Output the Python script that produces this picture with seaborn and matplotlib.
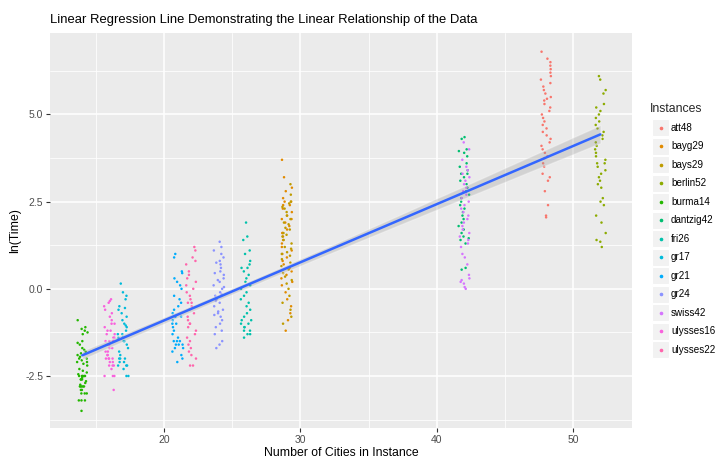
import numpy as np
import pandas as pd
import matplotlib
matplotlib.use("Agg")
import matplotlib.pyplot as plt
from matplotlib.patches import Rectangle
from matplotlib.collections import PolyCollection
import seaborn as sns

# --- data ---
instances = ["att48", "bayg29", "bays29", "berlin52", "burma14", "dantzig42", "fri26",
             "gr17", "gr21", "gr24", "swiss42", "ulysses16", "ulysses22"]
cities = [48, 29, 29, 52, 14, 42, 26, 17, 21, 24, 42, 16, 22]
colors = ["#F8766D", "#E18A00", "#BE9C00", "#8CAB00", "#24B700", "#00BE70", "#00C1AB",
          "#00BBDA", "#00ACFC", "#8B93FF", "#D575FE", "#F962DD", "#FF65AC"]

ln_att48 = [6.8, 6.6, 6.5, 6.4, 6.3, 6.2, 6.1, 6.0, 5.9, 5.8, 5.7, 5.6, 5.5, 5.45, 5.4, 5.3,
            5.2, 5.1, 5.0, 4.9, 4.8, 4.7, 4.6, 4.5, 4.4, 4.3, 4.2, 4.1, 4.0, 3.9, 3.8, 3.75,
            3.6, 3.5, 3.3, 3.2, 3.1, 2.8, 2.4, 2.1, 2.05]
ln_bayg29 = [3.7, 3.2, 2.9, 2.8, 2.6, 2.5, 2.5, 2.4, 2.4, 2.3, 2.2, 2.1, 2.0, 2.0, 1.9, 1.8,
             1.7, 1.6, 1.6, 1.5, 1.4, 1.3, 1.2, 1.1, 1.0, 0.9, 0.8, 0.7, 0.6, 0.5, 0.4, 0.3,
             0.2, 0.1, -0.1, -0.3, -0.5, -0.7, -0.9, -1.2]
ln_bays29 = [3.0, 2.7, 2.5, 2.45, 2.35, 2.3, 2.2, 2.1, 2.0, 1.9, 1.85, 1.75, 1.7, 1.6, 1.55,
             1.5, 1.4, 1.3, 1.2, 1.15, 1.05, 1.0, 0.95, 0.85, 0.75, 0.65, 0.55, 0.45, 0.35,
             0.25, 0.15, 0.0, -0.2, -0.4, -0.6, -0.8, -1.0]
ln_berlin52 = [6.1, 6.0, 5.7, 5.6, 5.3, 5.2, 5.1, 5.0, 4.9, 4.8, 4.7, 4.6, 4.5, 4.4, 4.3, 4.2,
               4.1, 4.0, 3.9, 3.8, 3.7, 3.6, 3.6, 3.5, 3.4, 3.3, 3.2, 3.1, 3.0, 2.9, 2.6, 2.5,
               2.4, 2.1, 1.9, 1.6, 1.4, 1.35, 1.2]
ln_burma14 = [-0.9, -1.1, -1.15, -1.2, -1.25, -1.3, -1.5, -1.55, -1.6, -1.7, -1.75, -1.8,
              -1.85, -1.9, -1.95, -2.0, -2.0, -2.05, -2.1, -2.1, -2.15, -2.2, -2.3, -2.35,
              -2.4, -2.45, -2.5, -2.5, -2.5, -2.5, -2.5, -2.55, -2.6, -2.6, -2.6, -2.65,
              -2.7, -2.75, -2.8, -2.8, -2.8, -2.8, -2.8, -2.9, -2.9, -3.0, -3.0, -3.0,
              -3.2, -3.2, -3.2, -3.5]
ln_dantzig42 = [4.35, 4.3, 4.0, 3.95, 3.9, 3.8, 3.6, 3.5, 3.4, 3.3, 3.3, 3.2, 3.1, 3.0, 2.9,
                2.8, 2.7, 2.6, 2.5, 2.4, 2.3, 2.2, 2.1, 2.0, 1.9, 1.8, 1.7, 1.6, 1.5, 1.45,
                1.4, 1.3, 0.6, 0.55]
ln_fri26 = [1.9, 1.5, 1.4, 1.1, 1.0, 0.8, 0.7, 0.6, 0.6, 0.5, 0.4, 0.3, 0.2, 0.1, 0.0, -0.1,
            -0.2, -0.3, -0.4, -0.5, -0.6, -0.7, -0.8, -0.9, -0.9, -1.0, -1.0, -1.1, -1.1,
            -1.2, -1.2, -1.3, -1.3, -1.4]
ln_gr17 = [0.15, -0.1, -0.2, -0.3, -0.5, -0.55, -0.6, -0.7, -0.8, -0.9, -1.0, -1.05, -1.1,
           -1.2, -1.3, -1.3, -1.4, -1.4, -1.5, -1.5, -1.6, -1.7, -1.8, -1.9, -2.0, -2.0,
           -2.0, -2.1, -2.1, -2.2, -2.2, -2.2, -2.3, -2.5, -2.5]
ln_gr21 = [1.0, 0.9, 0.5, 0.45, 0.3, 0.2, 0.1, 0.0, -0.2, -0.3, -0.4, -0.5, -0.6, -0.7,
           -0.8, -0.8, -0.9, -1.0, -1.0, -1.1, -1.2, -1.3, -1.4, -1.5, -1.5, -1.5, -1.6,
           -1.6, -1.6, -1.7, -1.7, -1.8, -1.9, -2.0, -2.1]
ln_gr24 = [1.35, 1.2, 1.1, 1.0, 0.9, 0.8, 0.75, 0.7, 0.6, 0.5, 0.45, 0.4, 0.3, 0.25, 0.2,
           0.1, 0.05, 0.0, -0.1, -0.15, -0.2, -0.3, -0.35, -0.4, -0.5, -0.6, -0.65, -0.7,
           -0.75, -0.8, -0.9, -1.0, -1.1, -1.2, -1.3, -1.5, -1.6, -1.7]
ln_swiss42 = [4.2, 4.0, 3.7, 3.5, 3.4, 3.3, 3.2, 3.1, 3.0, 2.9, 2.8, 2.7, 2.6, 2.5, 2.4,
              2.3, 2.2, 2.1, 2.0, 1.9, 1.8, 1.7, 1.6, 1.5, 1.4, 1.3, 1.2, 1.0, 0.9, 0.7,
              0.4, 0.3, 0.25, 0.2, 0.15, 0.05, 0.0]
ln_ulysses16 = [-0.3, -0.35, -0.4, -0.5, -0.6, -0.7, -0.8, -0.9, -1.0, -1.0, -1.1, -1.2,
                -1.2, -1.3, -1.3, -1.4, -1.4, -1.5, -1.5, -1.5, -1.6, -1.6, -1.7, -1.7,
                -1.8, -1.8, -1.9, -1.9, -2.0, -2.0, -2.0, -2.0, -2.1, -2.1, -2.2, -2.2,
                -2.2, -2.3, -2.5, -2.5, -2.5, -2.9]
ln_ulysses22 = [1.2, 1.1, 0.9, 0.8, 0.7, 0.5, 0.4, 0.3, 0.2, 0.1, 0.0, -0.1, -0.2, -0.3,
                -0.4, -0.4, -0.5, -0.6, -0.7, -0.8, -0.9, -1.0, -1.0, -1.1, -1.2, -1.3,
                -1.4, -1.5, -1.6, -1.7, -1.8, -1.9, -2.0, -2.2, -2.2]

ln_times = {
    "att48": ln_att48, "bayg29": ln_bayg29, "bays29": ln_bays29, "berlin52": ln_berlin52,
    "burma14": ln_burma14, "dantzig42": ln_dantzig42, "fri26": ln_fri26, "gr17": ln_gr17,
    "gr21": ln_gr21, "gr24": ln_gr24, "swiss42": ln_swiss42, "ulysses16": ln_ulysses16,
    "ulysses22": ln_ulysses22,
}

rows = []
for name, n in zip(instances, cities):
    for v in ln_times[name]:
        rows.append((name, n, v))
df = pd.DataFrame(rows, columns=["Instance", "Cities", "LnTime"])

# --- ggplot-like look ---
sns.set_theme(style="darkgrid", rc={
    "axes.facecolor": "#EBEBEB",
    "grid.color": "white",
    "axes.unicode_minus": False,
})
plt.rcParams["font.family"] = ["Liberation Sans", "DejaVu Sans"]

fig = plt.figure(figsize=(7.17, 4.59), dpi=100)
W, H = 717, 459
ax = fig.add_axes([50 / W, 1 - 428.3 / H, (632.4 - 50) / W, (428.3 - 32.7) / H])

np.random.seed(7)  # only for the horizontal jitter
sns.stripplot(data=df, x="Cities", y="LnTime", hue="Instance", hue_order=instances,
              palette=colors, native_scale=True, orient="x", jitter=0.4, size=1.8,
              linewidth=0, legend=False, ax=ax, zorder=2)
sns.regplot(data=df, x="Cities", y="LnTime", scatter=False, color="#3366FF",
            line_kws={"lw": 1.8, "zorder": 4}, ax=ax)
for coll in ax.collections:
    if isinstance(coll, PolyCollection):
        coll.set_facecolor("#999999")
        coll.set_alpha(0.3)
        coll.set_zorder(3)

ax.set_xlim(11.63, 54.35)
ax.set_ylim(-4.0, 7.345)
ax.set_xticks([20, 30, 40, 50])
ax.set_xticklabels(["20", "30", "40", "50"])
ax.set_xticks([15, 25, 35, 45], minor=True)
ax.set_yticks([-2.5, 0, 2.5, 5])
ax.set_yticklabels(["-2.5", "0.0", "2.5", "5.0"])
ax.set_yticks([-3.75, -1.25, 1.25, 3.75, 6.25], minor=True)
ax.grid(which="major", color="white", lw=1.1)
ax.grid(which="minor", color="white", lw=0.55)
for s in ax.spines.values():
    s.set_visible(False)
ax.tick_params(which="major", length=3, width=0.8, color="#333333", labelcolor="#4D4D4D",
               labelsize=7.5, pad=2, bottom=True, left=True)
ax.tick_params(which="minor", length=0)

ax.set_xlabel("Number of Cities in Instance", fontsize=8.8, color="black", labelpad=1)
ax.set_ylabel("ln(Time)", fontsize=8.8, color="black", labelpad=3)
ax.set_title("Linear Regression Line Demonstrating the Linear Relationship of the Data",
             loc="left", fontsize=9.4, color="black", pad=7)

# --- legend drawn ggplot-style ---
fig.text(650 / W, 1 - 109 / H, "Instances", fontsize=8.8, va="center", ha="left")
for i, (name, col) in enumerate(zip(instances, colors)):
    yc = 127.7 + i * 18.5
    fig.patches.append(Rectangle((652 / W, 1 - (yc + 8.5) / H), 17 / W, 17 / H,
                                 transform=fig.transFigure, facecolor="#F2F2F2",
                                 edgecolor="white", lw=0.8))
    fig.lines.append(plt.Line2D([660.5 / W], [1 - yc / H], transform=fig.transFigure,
                                marker="o", ms=1.6, color=col, lw=0))
    fig.text(671 / W, 1 - yc / H, name, fontsize=7.1, va="center", ha="left",
             color="black")

fig.savefig("out.png", dpi=100)
